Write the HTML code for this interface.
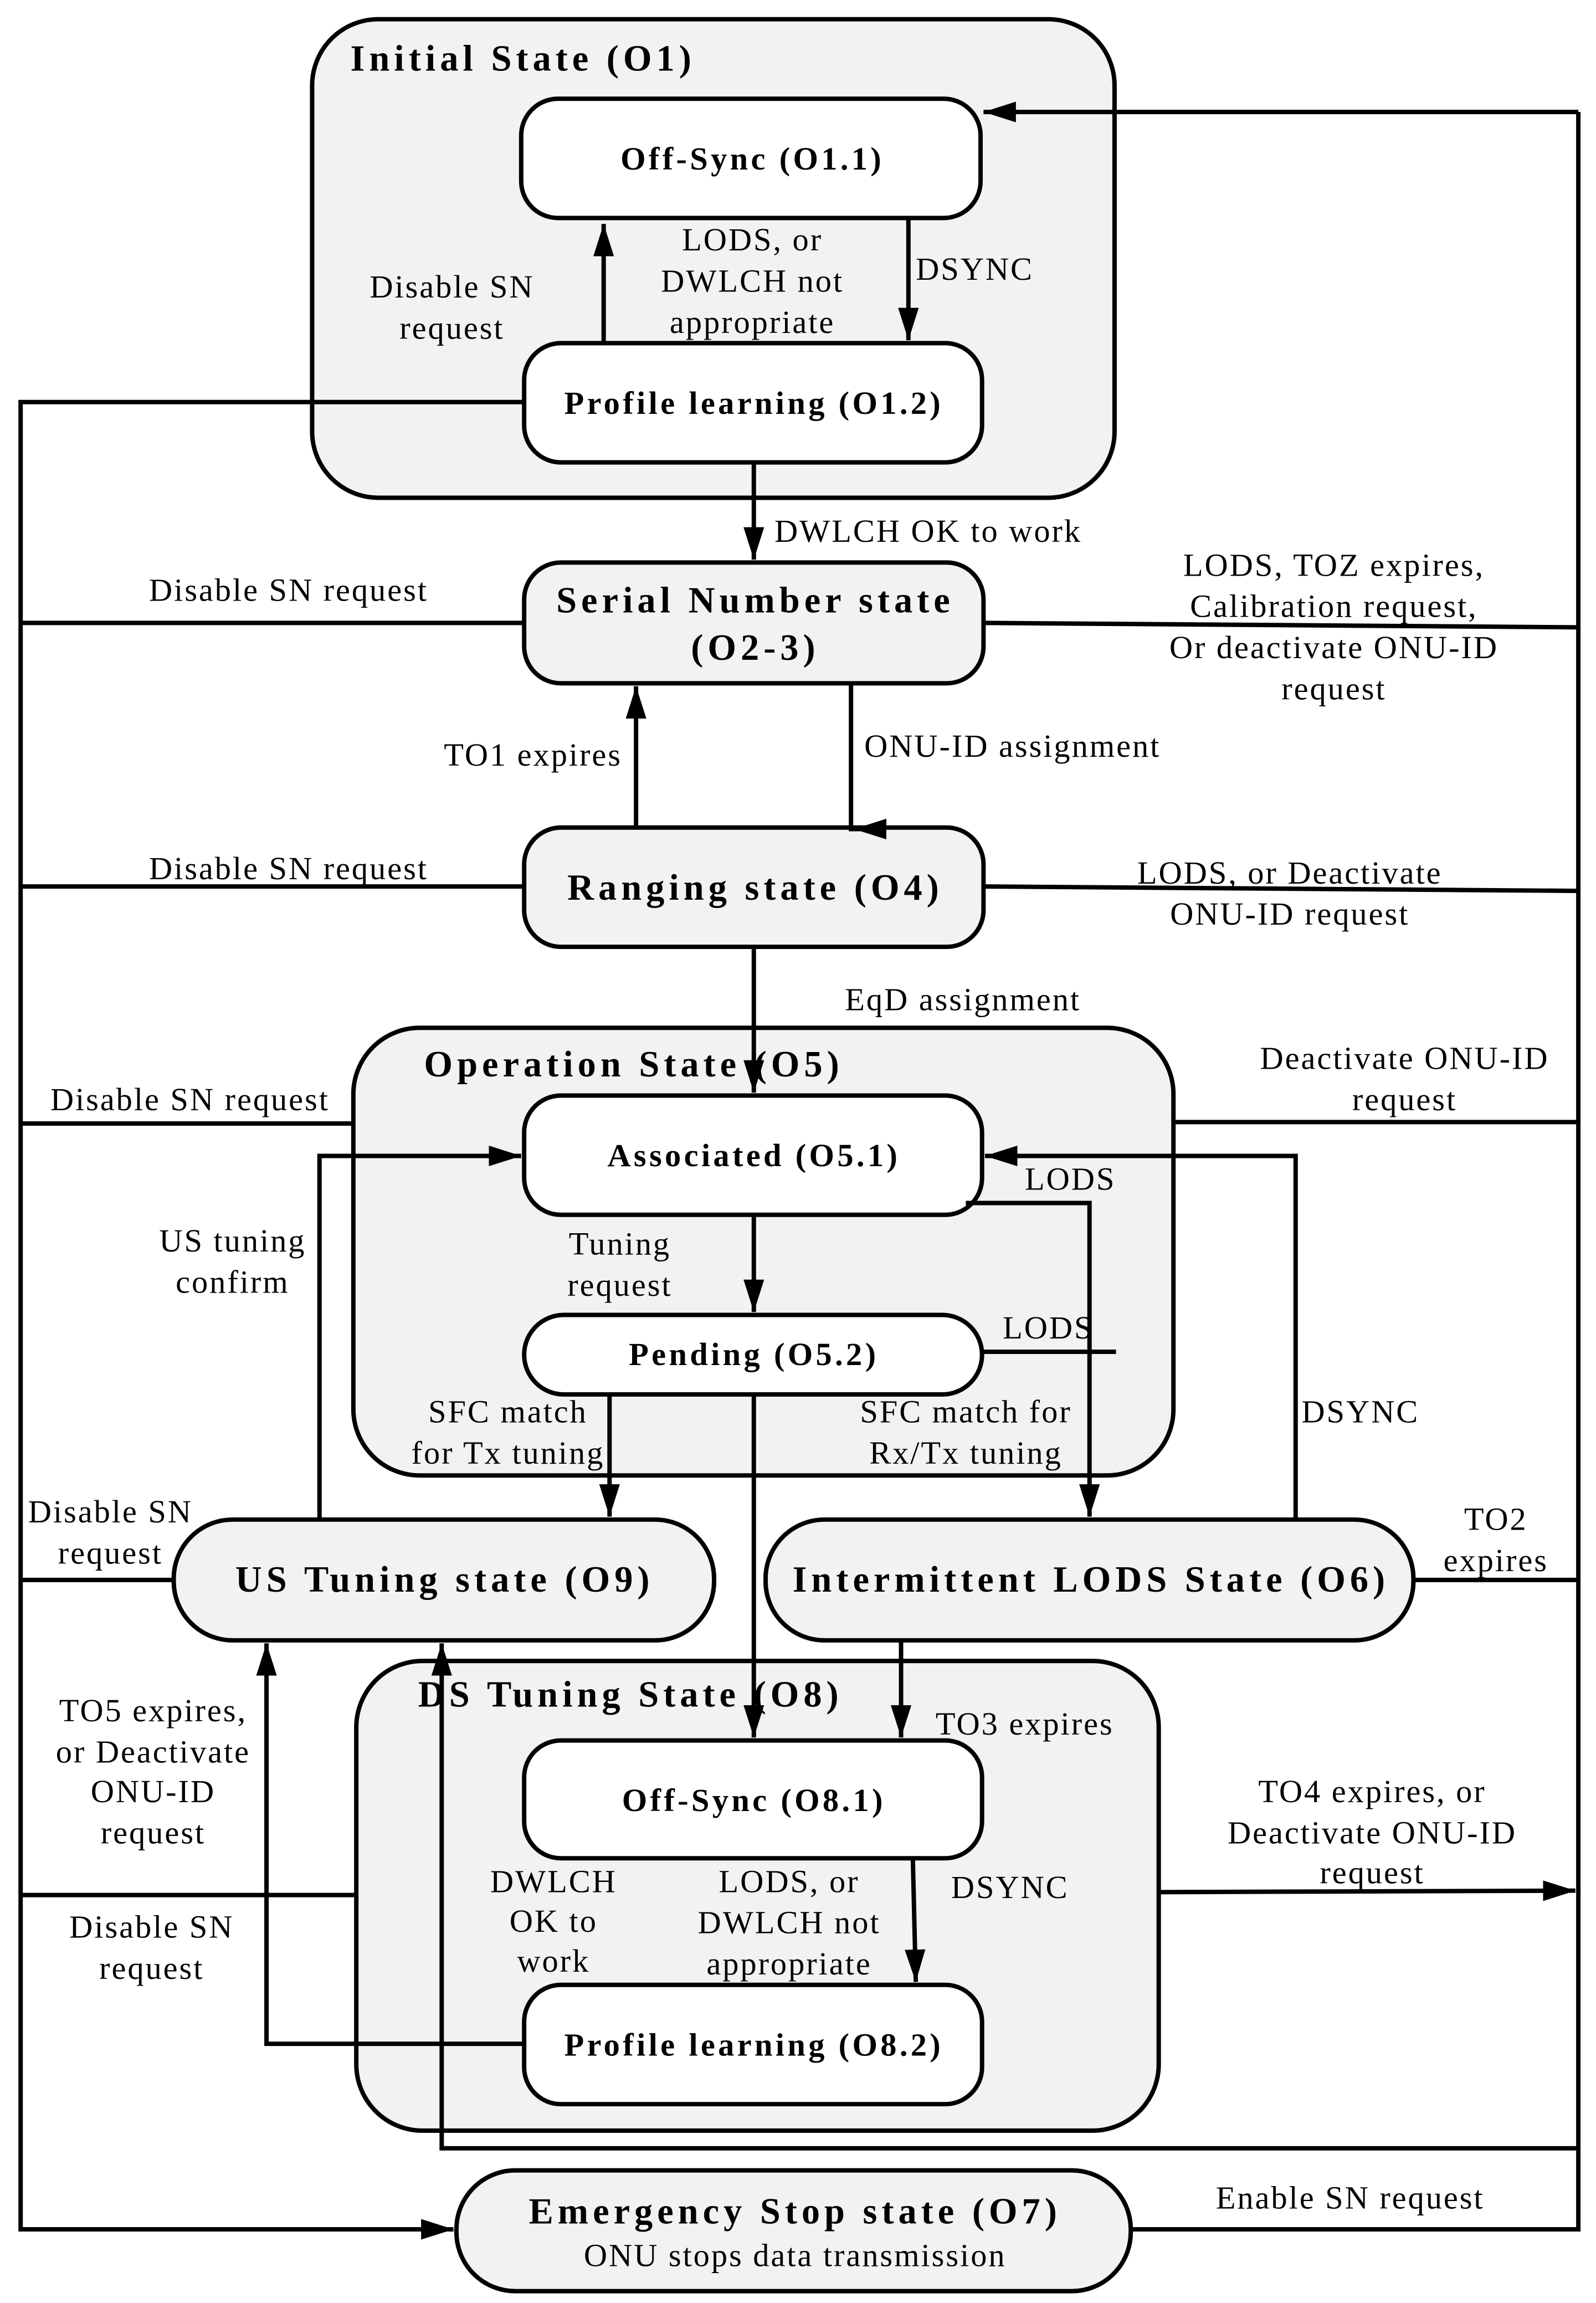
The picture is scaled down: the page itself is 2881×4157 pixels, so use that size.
<!DOCTYPE html>
<html><head><meta charset="utf-8"><style>
html,body{margin:0;padding:0;background:#fff;}
svg{display:block;}
text{font-family:"Liberation Serif",serif;fill:#000;}
.l{font-size:22px;text-anchor:middle;letter-spacing:1.1px;}
.ls{font-size:22px;letter-spacing:1.1px;}
.b{font-weight:bold;font-size:22px;text-anchor:middle;letter-spacing:2px;}
.bb{font-weight:bold;font-size:25px;text-anchor:middle;letter-spacing:3px;}
.t{font-weight:bold;font-size:25px;letter-spacing:3px;}
</style></head><body>
<svg width="2881" height="4157" viewBox="0 0 1084 1564" xmlns="http://www.w3.org/2000/svg">
<defs>
<marker id="A" markerWidth="22" markerHeight="14" refX="22" refY="7" orient="auto" markerUnits="userSpaceOnUse"><path d="M0,0 L22,7 L0,14 z" fill="#000"/></marker></defs>
<g fill="none" stroke="#000" stroke-width="3">
<rect x="212" y="13" width="545" height="325" rx="45" fill="#f2f2f2"/>
<rect x="240" y="698" width="557" height="304" rx="45" fill="#f2f2f2"/>
<rect x="242" y="1128" width="545" height="319" rx="45" fill="#f2f2f2"/>
<rect x="354" y="67" width="312" height="81" rx="25" fill="#fff"/>
<rect x="356" y="233" width="311" height="81" rx="25" fill="#fff"/>
<rect x="356" y="382" width="312" height="82" rx="25" fill="#f2f2f2"/>
<rect x="356" y="562" width="312" height="81" rx="25" fill="#f2f2f2"/>
<rect x="356" y="744" width="311" height="81" rx="25" fill="#fff"/>
<rect x="356" y="893" width="311" height="54" rx="27" fill="#fff"/>
<rect x="118" y="1032" width="367" height="82" rx="40" fill="#f2f2f2"/>
<rect x="520" y="1032" width="440" height="82" rx="40" fill="#f2f2f2"/>
<rect x="356" y="1182" width="311" height="80" rx="25" fill="#fff"/>
<rect x="356" y="1348" width="311" height="81" rx="25" fill="#fff"/>
<rect x="310" y="1474" width="458" height="82" rx="40" fill="#f2f2f2"/>
<path d="M410,233 V152" marker-end="url(#A)"/>
<path d="M617,148 L617,231" marker-end="url(#A)"/>
<path d="M512,314 V380" marker-end="url(#A)"/>
<path d="M432,562 V466" marker-end="url(#A)"/>
<path d="M578,464 V563 H600" />
<path d="M600,563 H580" marker-end="url(#A)"/>
<path d="M1072,76 V1514 H768"/>
<path d="M1072,76 H668" marker-end="url(#A)"/>
<path d="M356,273 H14 V1514 H308" marker-end="url(#A)"/>
<path d="M356,423 H14 M356,602 H14 M240,763 H14 M118,1073 H14 M242,1287 H14"/>
<path d="M668,423 L1072,426 M668,602 L1072,605 M797,762 H1072 M960,1073 H1072"/>
<path d="M787,1285 L1070,1284" marker-end="url(#A)"/>
<path d="M512,643 V742" marker-end="url(#A)"/>
<path d="M512,825 V891" marker-end="url(#A)"/>
<path d="M217,1032 V785 H354" marker-end="url(#A)"/>
<path d="M656,817 H740 V1030" marker-end="url(#A)"/>
<path d="M667,918 H758"/>
<path d="M880,1032 V785 H669" marker-end="url(#A)"/>
<path d="M414,947 V1030" marker-end="url(#A)"/>
<path d="M512,947 V1180" marker-end="url(#A)"/>
<path d="M612,1114 V1180" marker-end="url(#A)"/>
<path d="M620,1262 L622,1346" marker-end="url(#A)"/>
<path d="M356,1388 H181 V1116" marker-end="url(#A)"/>
<path d="M1072,1459 H300 V1116" marker-end="url(#A)"/>
</g>
<text class="t" x="238" y="48">Initial State (O1)</text>
<text class="t" x="288" y="731">Operation State (O5)</text>
<text class="t" x="284" y="1159">DS Tuning State (O8)</text>
<text class="b" x="511" y="115">Off-Sync (O1.1)</text>
<text class="b" x="512" y="281">Profile learning (O1.2)</text>
<text class="bb" x="513" y="416">Serial Number state</text>
<text class="bb" x="513" y="448">(O2-3)</text>
<text class="bb" x="513" y="611">Ranging state (O4)</text>
<text class="b" x="512" y="792">Associated (O5.1)</text>
<text class="b" x="512" y="927">Pending (O5.2)</text>
<text class="bb" x="302" y="1081">US Tuning state (O9)</text>
<text class="bb" x="741" y="1081">Intermittent LODS State (O6)</text>
<text class="b" x="512" y="1230">Off-Sync (O8.1)</text>
<text class="b" x="512" y="1396">Profile learning (O8.2)</text>
<text class="bb" x="540" y="1510">Emergency Stop state (O7)</text>
<text class="l" x="540" y="1539">ONU stops data transmission</text>
<text class="l" x="307" y="202">Disable SN</text><text class="l" x="307" y="230">request</text>
<text class="l" x="511" y="170">LODS, or</text><text class="l" x="511" y="198">DWLCH not</text><text class="l" x="511" y="226">appropriate</text>
<text class="ls" x="622" y="190">DSYNC</text>
<text class="ls" x="526" y="368">DWLCH OK to work</text>
<text class="l" x="196" y="408">Disable SN request</text>
<text class="l" x="906" y="391">LODS, TOZ expires,</text><text class="l" x="906" y="419">Calibration request,</text><text class="l" x="906" y="447">Or deactivate ONU-ID</text><text class="l" x="906" y="475">request</text>
<text class="l" x="362" y="520">TO1 expires</text>
<text class="ls" x="587" y="514">ONU-ID assignment</text>
<text class="l" x="196" y="597">Disable SN request</text>
<text class="l" x="876" y="600">LODS, or Deactivate</text><text class="l" x="876" y="628">ONU-ID request</text>
<text class="l" x="654" y="686">EqD assignment</text>
<text class="l" x="954" y="726">Deactivate ONU-ID</text><text class="l" x="954" y="754">request</text>
<text class="l" x="129" y="754">Disable SN request</text>
<text class="l" x="158" y="850">US tuning</text><text class="l" x="158" y="878">confirm</text>
<text class="l" x="421" y="852">Tuning</text><text class="l" x="421" y="880">request</text>
<text class="l" x="727" y="808">LODS</text>
<text class="l" x="712" y="909">LODS</text>
<text class="l" x="924" y="966">DSYNC</text>
<text class="l" x="345" y="966">SFC match</text><text class="l" x="345" y="994">for Tx tuning</text>
<text class="l" x="656" y="966">SFC match for</text><text class="l" x="656" y="994">Rx/Tx tuning</text>
<text class="l" x="75" y="1034">Disable SN</text><text class="l" x="75" y="1062">request</text>
<text class="l" x="1016" y="1039">TO2</text><text class="l" x="1016" y="1067">expires</text>
<text class="l" x="104" y="1169">TO5 expires,</text><text class="l" x="104" y="1197">or Deactivate</text><text class="l" x="104" y="1224">ONU-ID</text><text class="l" x="104" y="1252">request</text>
<text class="l" x="696" y="1178">TO3 expires</text>
<text class="l" x="932" y="1224">TO4 expires, or</text><text class="l" x="932" y="1252">Deactivate ONU-ID</text><text class="l" x="932" y="1279">request</text>
<text class="l" x="376" y="1285">DWLCH</text><text class="l" x="376" y="1312">OK to</text><text class="l" x="376" y="1339">work</text>
<text class="l" x="536" y="1285">LODS, or</text><text class="l" x="536" y="1313">DWLCH not</text><text class="l" x="536" y="1341">appropriate</text>
<text class="l" x="686" y="1289">DSYNC</text>
<text class="l" x="103" y="1316">Disable SN</text><text class="l" x="103" y="1344">request</text>
<text class="l" x="917" y="1500">Enable SN request</text>
</svg>
</body></html>
